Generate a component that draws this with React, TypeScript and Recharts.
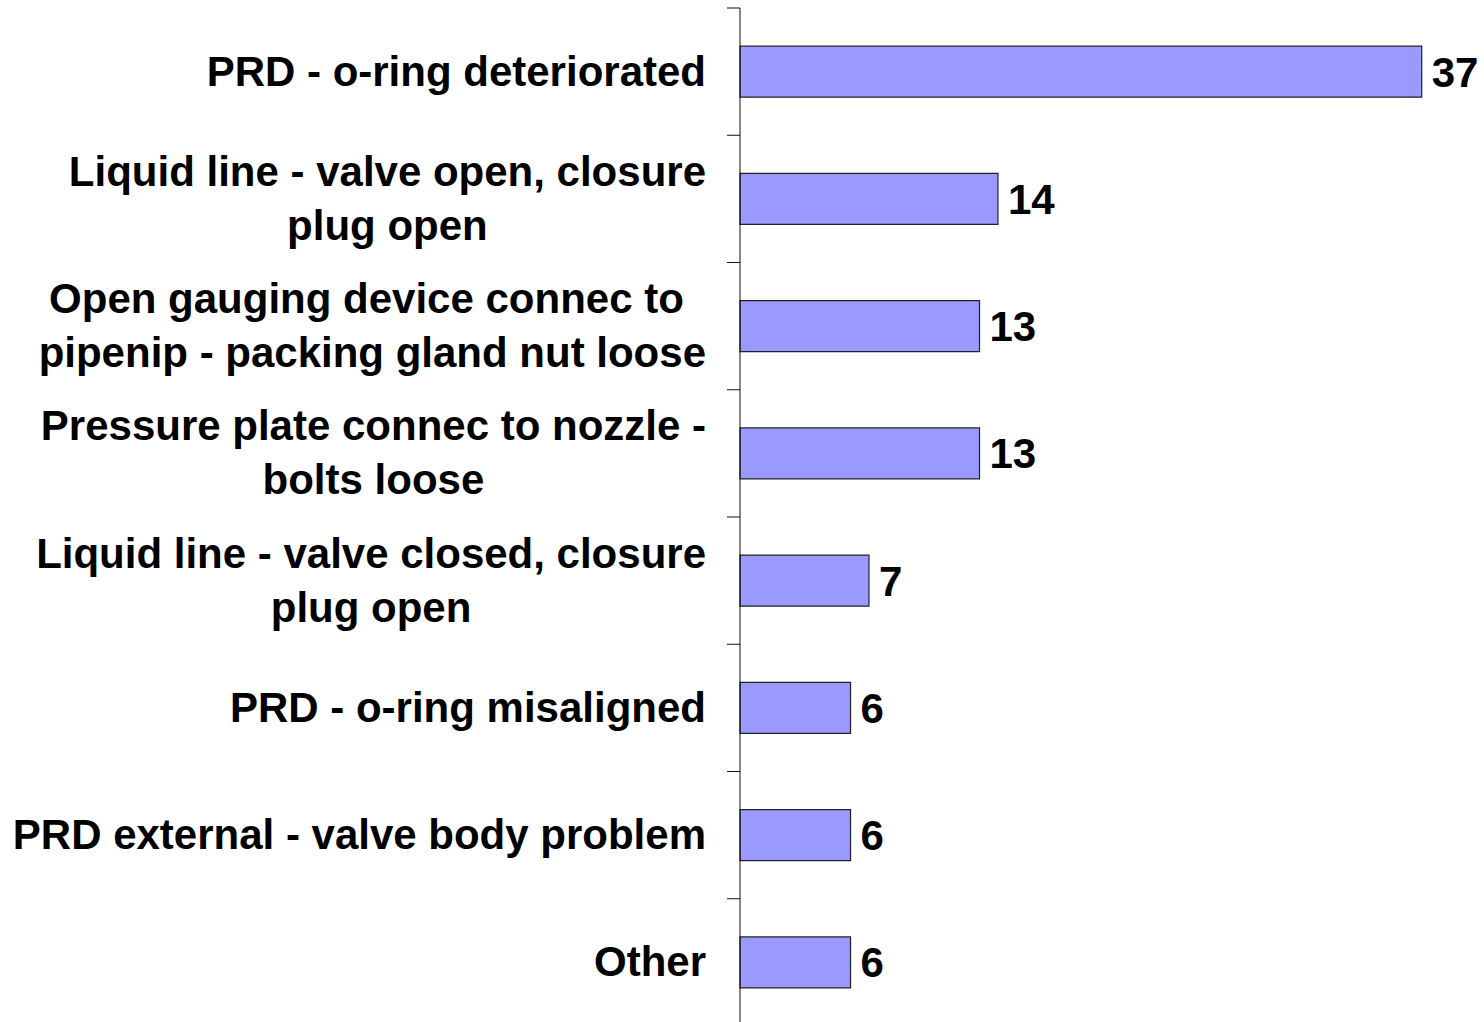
import { BarChart, Bar, XAxis, YAxis, LabelList } from "recharts";

const categories: string[] = [
  "PRD - o-ring deteriorated",
  "Liquid line - valve open, closure\nplug open",
  "Open gauging device connec to \npipenip - packing gland nut loose",
  "Pressure plate connec to nozzle -\nbolts loose",
  "Liquid line - valve closed, closure\nplug open",
  "PRD - o-ring misaligned",
  "PRD external - valve body problem",
  "Other",
];

const counts: number[] = [37, 14, 13, 13, 7, 6, 6, 6];

const data = categories.map((name, i) => ({ name, count: counts[i] }));

const FONT = "'Liberation Sans', Arial, Helvetica, sans-serif";
const TICK_LEN = 13;
const TICK_GAP = 21;
const CHART_H = 1040;
const MARGIN = { top: 8, right: 7, bottom: 14, left: 0 };

const CategoryTick = (props: any) => {
  const { x, y, payload } = props;
  const plotH = CHART_H - MARGIN.top - MARGIN.bottom;
  const half =
    payload && payload.offset ? payload.offset : plotH / categories.length / 2;
  const axisX = x + TICK_GAP + TICK_LEN;
  return (
    <g>
      <line
        x1={x + TICK_GAP}
        x2={axisX}
        y1={y - half}
        y2={y - half}
        stroke="#111"
        strokeWidth={1}
      />
      <foreignObject x={x - 720} y={y - 63} width={720} height={126}>
        <div
          style={{
            display: "flex",
            height: "100%",
            alignItems: "center",
            justifyContent: "flex-end",
          }}
        >
          <div
            style={{
              textAlign: "center",
              whiteSpace: "pre",
              fontFamily: FONT,
              fontWeight: 700,
              fontSize: 42,
              lineHeight: "54px",
              color: "#000",
            }}
          >
            {payload.value}
          </div>
        </div>
      </foreignObject>
    </g>
  );
};

export default function App() {
  return (
    <div
      style={{
        position: "absolute",
        left: 0,
        top: 0,
        width: 1484,
        height: 1022,
        overflow: "hidden",
        background: "#fff",
      }}
    >
      <BarChart
        width={1484}
        height={CHART_H}
        data={data}
        layout="vertical"
        margin={MARGIN}
        barCategoryGap="30%"
      >
        <XAxis type="number" domain={[0, 40]} hide />
        <YAxis
          type="category"
          dataKey="name"
          width={740}
          axisLine={{ stroke: "#111", strokeWidth: 1 }}
          tickLine={false}
          tickSize={TICK_LEN}
          tickMargin={TICK_GAP}
          interval={0}
          tick={<CategoryTick />}
        />
        <Bar
          dataKey="count"
          fill="#9999FF"
          stroke="#222"
          strokeWidth={1.2}
          isAnimationActive={false}
        >
          <LabelList
            dataKey="count"
            position="right"
            offset={10}
            fill="#000"
            style={{ fontFamily: FONT, fontWeight: 700, fontSize: 42 }}
          />
        </Bar>
      </BarChart>
    </div>
  );
}
